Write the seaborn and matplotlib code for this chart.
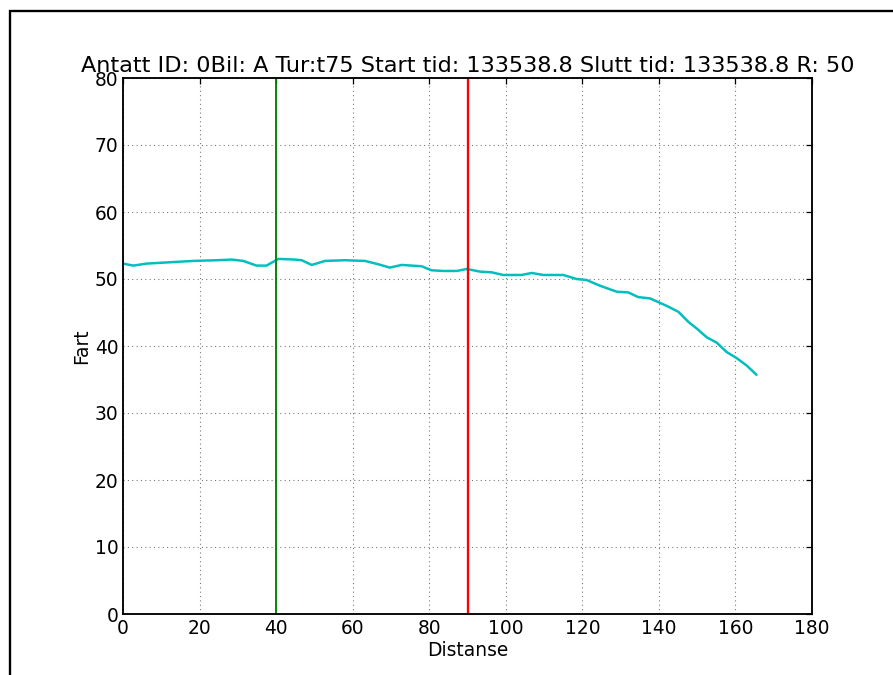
import matplotlib
matplotlib.use("Agg")
import matplotlib.pyplot as plt
import seaborn as sns
import pandas as pd
from matplotlib.patches import Rectangle

distanse = [0, 2.7, 6.2, 12.3, 18.4, 24.5, 28.4, 31.4, 34.9, 37.5, 40.6, 44.9,
            46.7, 49.3, 52.8, 58.0, 63.2, 66.7, 69.7, 72.8, 78.0, 80.6, 83.7,
            87.2, 89.8, 93.3, 96.3, 99.3, 104.1, 106.8, 109.8, 115.0, 118.5,
            121.1, 124.6, 129.0, 132.0, 134.6, 137.7, 142.0, 145.1, 147.7,
            149.9, 152.5, 155.1, 157.7, 160.3, 162.9, 165.5]
fart = [52.3, 52.0, 52.3, 52.5, 52.7, 52.8, 52.9, 52.7, 52.0, 52.0, 53.0, 52.9,
        52.8, 52.1, 52.7, 52.8, 52.7, 52.2, 51.7, 52.1, 51.9, 51.3, 51.2,
        51.2, 51.5, 51.1, 51.0, 50.6, 50.6, 50.9, 50.6, 50.6, 50.0,
        49.85, 49.0, 48.1, 48.0, 47.3, 47.1, 46.0, 45.1, 43.6,
        42.6, 41.3, 40.5, 39.1, 38.2, 37.1, 35.7]
start_mark = 40
slutt_mark = 90
title = "Antatt ID: 0Bil: A Tur:t75 Start tid: 133538.8 Slutt tid: 133538.8 R: 50"
xticks = [0, 20, 40, 60, 80, 100, 120, 140, 160, 180]
yticks = [0, 10, 20, 30, 40, 50, 60, 70, 80]

sns.set_style("white")
plt.rcParams["font.family"] = ["DejaVu Sans"]
plt.rcParams["text.color"] = "black"
plt.rcParams["axes.labelcolor"] = "black"

df = pd.DataFrame({"Distanse": distanse, "Fart": fart})

fig = plt.figure(figsize=(893 / 112, 675 / 112), dpi=112)
ax = fig.add_axes([123 / 893, 1 - 614 / 675, (812 - 123) / 893, (614 - 78) / 675])

sns.lineplot(data=df, x="Distanse", y="Fart", ax=ax, color=(0, 0.75, 0.75), lw=1.6)
ax.axvline(start_mark, color=(0, 0.5, 0), lw=1.2)
ax.axvline(slutt_mark, color="red", lw=1.5)

ax.set_xlim(0, 180)
ax.set_ylim(0, 80)
ax.set_xticks(xticks)
ax.set_yticks(yticks)
ax.tick_params(labelsize=12, direction="in", top=True, right=True, length=4,
               width=0.8, colors="black", pad=3)
ax.grid(True, color="#555555", linestyle=(0, (1, 3)), lw=0.7, alpha=0.8)
for s in ax.spines.values():
    s.set_visible(True)
    s.set_color("black")
    s.set_linewidth(1.2)
ax.set_xlabel("Distanse", fontsize=12, labelpad=2, color="black")
ax.set_ylabel("Fart", fontsize=12, labelpad=2, color="black")
ax.set_title(title, fontsize=14.4, pad=4, color="black")

fig.patches.append(Rectangle((10 / 893, -0.2), 1.3, 0.2 + (1 - 11 / 675),
                             transform=fig.transFigure, fill=False,
                             edgecolor="black", lw=1.5))

fig.savefig("out.png", dpi=112)
